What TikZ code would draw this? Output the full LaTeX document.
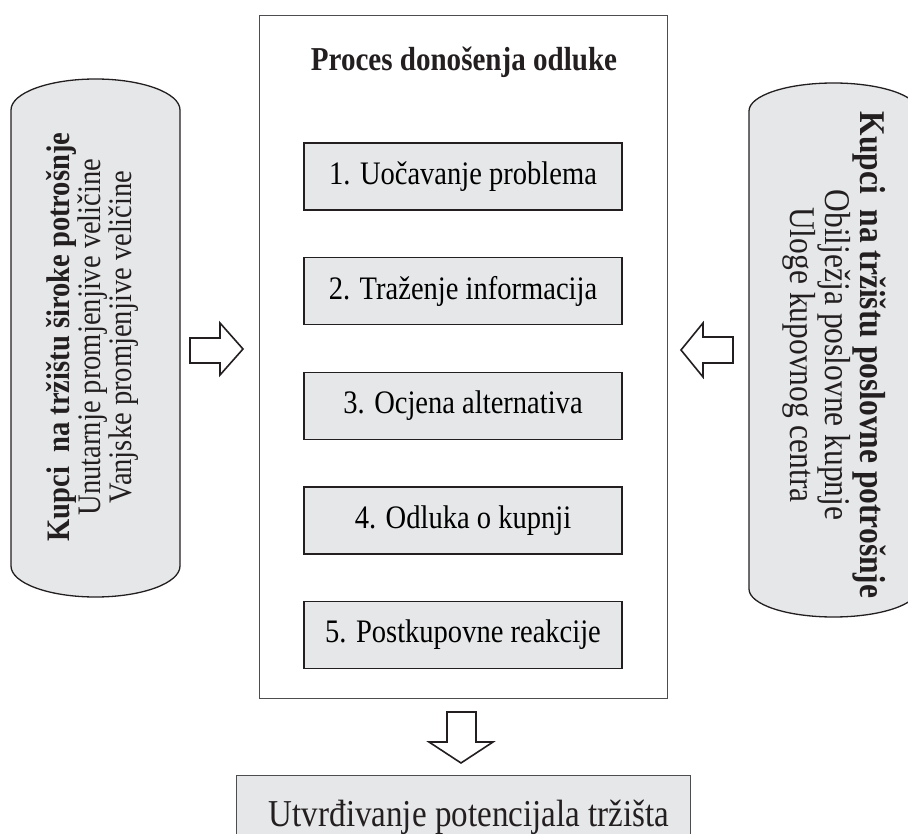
\documentclass[tikz,border=0pt]{standalone}
\usepackage{fontspec}
\setmainfont{Liberation Serif}[FakeStretch=0.87]
\definecolor{boxgray}{HTML}{E6E7E8}
\definecolor{linedark}{HTML}{231F20}
\definecolor{framegray}{HTML}{4D4D4F}
\begin{document}
\begin{tikzpicture}[x=1pt,y=-1pt,
  stepbox/.style={draw=linedark,line width=1.4pt,fill=boxgray,minimum width=318pt,minimum height=67pt,inner sep=0pt,font=\fontsize{32.8}{34}\selectfont},
  capsule/.style={draw=linedark,line width=1.3pt,fill=boxgray},
  blockarrow/.style={draw=linedark,line width=1.6pt,fill=white,line join=miter},
  captext/.style={align=center,inner sep=0pt,text=linedark}
]
\useasboundingbox (0,0) rectangle (908,834);
\clip (0,0) rectangle (908,834);
% main frame
\node[draw=framegray,line width=1pt,minimum width=408pt,minimum height=683pt,inner sep=0pt,anchor=north west] (frame) at (259,15) {};
\node[font=\fontsize{33.4}{35}\selectfont\bfseries,text=linedark] (title) at (464,62) {Proces donošenja odluke};
\node[stepbox] (s1) at (463,176.5) {1. Uočavanje problema};
\node[stepbox] (s2) at (463,291) {2. Traženje informacija};
\node[stepbox] (s3) at (463,406) {3. Ocjena alternativa};
\node[stepbox] (s4) at (463,520.5) {4. Odluka o kupnji};
\node[stepbox] (s5) at (463,635) {5. Postkupovne reakcije};
% left capsule
\draw[capsule] (11,110) .. controls (11,92.9) and (48.8,79) .. (95.5,79)
  .. controls (142.2,79) and (180,92.9) .. (180,110) -- (180,566)
  .. controls (180,583.1) and (142.2,597) .. (95.5,597)
  .. controls (48.8,597) and (11,583.1) .. (11,566) -- cycle;
\node[captext,rotate=90,font=\fontsize{32.8}{31}\selectfont] (left) at (92,337)
  {\textbf{Kupci\ \ na tržištu široke potrošnje}\\Unutarnje promjenjive veličine\\Vanjske promjenjive veličine};
% right capsule
\draw[capsule] (749,111) .. controls (749,95.5) and (786.8,83) .. (833.5,83)
  .. controls (880.2,83) and (918,95.5) .. (918,111) -- (918,589)
  .. controls (918,604.5) and (880.2,617) .. (833.5,617)
  .. controls (786.8,617) and (749,604.5) .. (749,589) -- cycle;
\node[captext,rotate=-90,font=\fontsize{36.2}{35}\selectfont] (right) at (834,355)
  {\textbf{Kupci\ \ na tržištu poslovne potrošnje}\\Obilježja poslovne kupnje\\Uloge kupovnog centra};
% block arrows
\draw[blockarrow] (190,338) -- (220,338) -- (220,323) -- (243,349) -- (220,375) -- (220,363) -- (190,363) -- cycle;
\draw[blockarrow] (733,337) -- (703,337) -- (703,323) -- (681,350) -- (703,377) -- (703,363) -- (733,363) -- cycle;
\draw[blockarrow] (447,712) -- (476,712) -- (476,742) -- (493,742) -- (461,763) -- (429,742) -- (447,742) -- cycle;
% bottom box
\node[draw=framegray,line width=1pt,fill=boxgray,minimum width=454pt,minimum height=80pt,inner sep=0pt,anchor=north west] (bottom) at (236,775) {};
\node[font=\fontsize{38}{40}\selectfont,text=linedark,anchor=base] (btext) at (469,826) {Utvrđivanje potencijala tržišta};
\end{tikzpicture}
\end{document}
